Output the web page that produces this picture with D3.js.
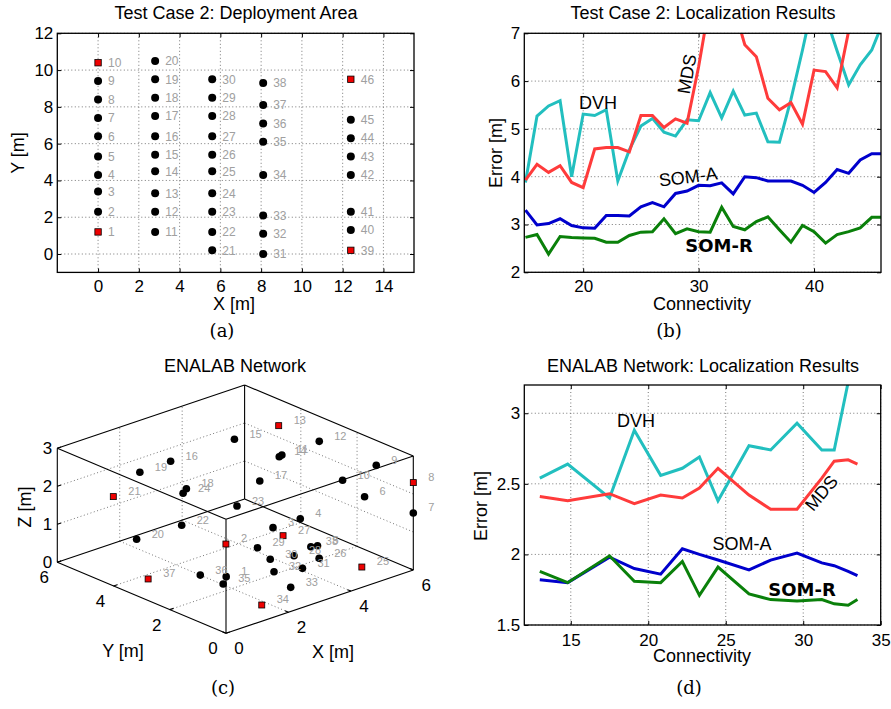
<!DOCTYPE html>
<meta charset="utf-8">
<style>
body { margin: 0; background: #fff; }
svg { font-family: "Liberation Sans", Arial, sans-serif; }
.grid line { stroke: #777; stroke-dasharray: 1,2.5; stroke-width: 1px; }
.line { fill: none; stroke-width: 3px; stroke-linejoin: miter; }
.nlab { fill: #a0a0a0; }
.sub { font-family: "DejaVu Serif", "Liberation Serif", serif; font-size: 18px; }
</style>
<body>
<script src="https://d3js.org/d3.v7.min.js"></script>
<script>

// ---- (a) Test Case 2 deployment
var tcId = d3.range(1, 47);
var tcX = [0,0,0,0,0,0,0,0,0,0, 2.8,2.8,2.8,2.8,2.8,2.8,2.8,2.8,2.8,2.8,
           5.6,5.6,5.6,5.6,5.6,5.6,5.6,5.6,5.6,5.6, 8.1,8.1,8.1,8.1,8.1,8.1,8.1,8.1,
           12.4,12.4,12.4,12.4,12.4,12.4,12.4,12.4];
var tcY = [1.2,2.3,3.4,4.3,5.3,6.4,7.4,8.4,9.4,10.4,
           1.2,2.3,3.3,4.5,5.4,6.4,7.5,8.5,9.5,10.5,
           0.2,1.2,2.3,3.3,4.5,5.4,6.4,7.5,8.5,9.5,
           0.0,1.1,2.1,4.3,6.1,7.1,8.1,9.3,
           0.2,1.3,2.3,4.3,5.3,6.3,7.3,9.5];
var tcAnchors = [1, 10, 39, 46];

// ---- (b) Test Case 2 results
var connB = d3.range(15, 47);
var dvhB  = [3.88,5.27,5.48,5.59,4.0,5.31,5.28,5.4,3.91,4.56,5.06,5.22,4.93,4.85,5.19,5.17,
             5.76,5.23,5.79,5.29,5.33,4.73,4.72,5.62,6.65,7.75,7.36,6.63,5.92,6.34,6.65,7.25];
var mdsB  = [3.93,4.26,4.09,4.23,3.88,3.77,4.58,4.61,4.61,4.52,5.28,5.28,5.03,5.21,5.12,6.3,
             7.7,8.3,7.6,6.76,6.51,5.64,5.40,5.55,5.10,6.23,6.20,5.86,7.05,8.0,8.5,9.0];
var somAB = [3.30,2.99,3.02,3.12,2.98,2.93,2.92,3.19,3.19,3.18,3.37,3.46,3.37,3.65,3.70,3.82,
             3.81,3.87,3.64,4.00,3.98,3.91,3.91,3.91,3.82,3.67,3.88,4.15,4.07,4.35,4.48,4.48];
var somRB = [2.73,2.79,2.38,2.75,2.73,2.72,2.71,2.63,2.63,2.77,2.84,2.85,3.12,2.81,2.91,2.85,
             2.84,3.36,2.96,2.89,3.06,3.16,2.89,2.63,2.98,2.85,2.61,2.79,2.85,2.93,3.15,3.15];

// ---- (c) ENALAB network (3D)
var enId = d3.range(1, 39);
var enX = [0.79,0.88,3.37,4.55,4.04,5.34,6.00,6.00,5.75,4.68,4.51,5.59,5.21,4.39,4.17,2.27,3.82,2.19,1.42,1.10,
           0.56,1.85,3.00,1.94,4.73,4.02,3.53,3.52,2.89,3.11,3.62,2.97,3.09,1.83,1.71,1.68,0.91,3.88];
var enY = [0.87,0.98,2.07,2.41,1.23,1.00,0.00,0.00,1.04,1.05,3.02,2.89,3.91,2.98,4.33,4.49,3.04,3.84,4.64,4.40,
           4.63,3.63,2.94,3.68,0.42,1.15,1.89,1.49,2.09,1.88,1.30,1.59,1.13,0.76,2.00,2.78,3.78,1.29];
var enZ = [1.0,1.8,1.2,1.0,0.8,1.8,1.5,2.3,2.5,2.4,2.5,2.6,2.8,2.5,2.6,2.5,2.0,2.0,2.4,0.8,
           2.0,1.2,1.6,2.0,0.3,0.5,1.0,0.6,0.8,0.5,0.3,0.3,0.0,0.0,0.2,0.2,0.0,0.8];
var enAnchors = [2, 8, 13, 21, 25, 27, 34, 37];

// ---- (d) ENALAB results
var connD = [13.0,14.8,17.5,19.1,20.8,22.2,23.3,24.5,26.5,27.9,29.6,31.2,32.0,32.9,33.5];
var dvhD  = [2.54,2.64,2.40,2.88,2.56,2.61,2.69,2.38,2.77,2.74,2.93,2.74,2.74,3.22,3.6];
var mdsD  = [2.41,2.38,2.43,2.36,2.42,2.40,2.47,2.61,2.42,2.32,2.32,2.54,2.66,2.67,2.64];
var somAD = [1.82,1.80,1.98,1.90,1.86,2.04,2.00,1.96,1.89,1.96,2.01,1.94,1.92,1.88,1.85];
var somRD = [1.88,1.80,1.99,1.81,1.80,1.95,1.71,1.91,1.72,1.68,1.67,1.68,1.65,1.64,1.68];

var colors = {dvh: "#22bfbf", mds: "#ff3b3b", somA: "#0000cc", somR: "#0a800a"};

var svg = d3.select("body").append("svg")
    .attr("width", 891)
    .attr("height", 709);

var fmt = d3.format("~g");

// 2D axes frame with dotted grid and inner ticks on all sides
function frame(id, left, top, w, h, xDom, yDom, xt, yt, xPad) {
  var g = svg.append("g").attr("transform", "translate(" + left + "," + top + ")");
  var x = d3.scaleLinear().domain(xDom).range([0, w]);
  var y = d3.scaleLinear().domain(yDom).range([h, 0]);

  var grid = g.append("g").attr("class", "grid");
  grid.selectAll(".gx").data(xt).enter().append("line")
      .attr("x1", x).attr("x2", x).attr("y1", 0).attr("y2", h);
  grid.selectAll(".gy").data(yt).enter().append("line")
      .attr("y1", y).attr("y2", y).attr("x1", 0).attr("x2", w);

  var axes = [
    g.append("g").attr("transform", "translate(0," + h + ")")
      .call(d3.axisBottom(x).tickValues(xt).tickFormat(fmt).tickSize(-4).tickPadding(xPad)),
    g.append("g").call(d3.axisTop(x).tickValues(xt).tickSize(-4).tickFormat("")),
    g.append("g").call(d3.axisLeft(y).tickValues(yt).tickFormat(fmt).tickSize(-4).tickPadding(4)),
    g.append("g").attr("transform", "translate(" + w + ",0)")
      .call(d3.axisRight(y).tickValues(yt).tickSize(-4).tickFormat(""))
  ];
  axes.forEach(function(a) {
    a.attr("font-size", 17).attr("font-family", "Liberation Sans, Arial, sans-serif");
    a.select(".domain").remove();
    a.selectAll("text").attr("fill", "#000");
  });

  g.append("clipPath").attr("id", id).append("rect").attr("width", w).attr("height", h);
  var plot = g.append("g").attr("clip-path", "url(#" + id + ")");

  g.append("rect").attr("width", w).attr("height", h)
      .attr("fill", "none").attr("stroke", "#000").attr("stroke-width", 1.3);
  return {g: g, x: x, y: y, plot: plot};
}

function text(g, s, x, y, opts) {
  opts = opts || {};
  var t = g.append("text").attr("x", x).attr("y", y).text(s)
      .attr("text-anchor", opts.anchor || "middle")
      .attr("font-size", opts.size || 18);
  if (opts.rotate) t.attr("transform", "rotate(" + opts.rotate + "," + x + "," + y + ")");
  if (opts.bold) t.attr("font-weight", "bold").attr("font-family", "DejaVu Sans, sans-serif");
  if (opts.cls) t.attr("class", opts.cls);
  return t;
}

// ================= (a)
var A = frame("clipA", 57.3, 33.3, 356.7, 239.1, [-2, 15.5], [-1, 12],
              d3.range(0, 15, 2), d3.range(0, 13, 2), 8);
var nodesA = tcId.map(function(id, i) { return {id: id, x: tcX[i], y: tcY[i]}; });
A.g.selectAll(".na").data(nodesA.filter(function(d) { return tcAnchors.indexOf(d.id) < 0; }))
  .enter().append("circle")
    .attr("cx", function(d) { return A.x(d.x); })
    .attr("cy", function(d) { return A.y(d.y); })
    .attr("r", 4).attr("fill", "#000");
A.g.selectAll(".sa").data(nodesA.filter(function(d) { return tcAnchors.indexOf(d.id) >= 0; }))
  .enter().append("rect")
    .attr("x", function(d) { return A.x(d.x) - 3.2; })
    .attr("y", function(d) { return A.y(d.y) - 3.2; })
    .attr("width", 6.4).attr("height", 6.4)
    .attr("fill", "#ee0000").attr("stroke", "#000").attr("stroke-width", 0.8);
A.g.selectAll(".la").data(nodesA).enter().append("text")
    .attr("class", "nlab")
    .attr("x", function(d) { return A.x(d.x) + 10; })
    .attr("y", function(d) { return A.y(d.y); })
    .attr("dy", "0.36em").attr("font-size", 12)
    .text(function(d) { return d.id; });
text(svg, "Test Case 2: Deployment Area", 236, 19);
text(svg, "X [m]", 234, 310);
text(svg, "Y [m]", 24, 153, {rotate: -90});
text(svg, "(a)", 222, 337, {cls: "sub"});

// ================= (b)
var B = frame("clipB", 524.3, 33.3, 356.7, 239, [14.9, 45.8], [2, 7],
              [20, 30, 40], d3.range(2, 8), 8);
var lineB = d3.line()
    .x(function(d, i) { return B.x(connB[i]); })
    .y(function(d) { return B.y(d); });
[[dvhB, colors.dvh], [mdsB, colors.mds], [somAB, colors.somA], [somRB, colors.somR]].forEach(function(s) {
  B.plot.append("path").datum(s[0]).attr("class", "line").attr("stroke", s[1]).attr("d", lineB);
});
text(svg, "Test Case 2: Localization Results", 703, 19);
text(svg, "Connectivity", 702, 310);
text(svg, "Error [m]", 502, 153, {rotate: -90});
text(svg, "DVH", 598, 109);
text(svg, "MDS", 693, 75, {rotate: -80});
text(svg, "SOM-A", 689, 183, {rotate: -7});
text(svg, "SOM-R", 719, 252, {bold: true});
text(svg, "(b)", 669, 337, {cls: "sub"});

// ================= (d)
var D = frame("clipD", 524.3, 385, 356.4, 240, [12, 35], [1.5, 3.2],
              [15, 20, 25, 30, 35], [1.5, 2, 2.5, 3], 9);
var lineD = d3.line()
    .x(function(d, i) { return D.x(connD[i]); })
    .y(function(d) { return D.y(d); });
[[dvhD, colors.dvh], [mdsD, colors.mds], [somAD, colors.somA], [somRD, colors.somR]].forEach(function(s) {
  D.plot.append("path").datum(s[0]).attr("class", "line").attr("stroke", s[1]).attr("d", lineD);
});
text(svg, "ENALAB Network: Localization Results", 703, 372);
text(svg, "Connectivity", 702, 662);
text(svg, "Error [m]", 487, 506, {rotate: -90});
text(svg, "DVH", 636, 427);
text(svg, "MDS", 826, 497, {rotate: -50});
text(svg, "SOM-A", 742, 550);
text(svg, "SOM-R", 802, 596, {bold: true});
text(svg, "(d)", 689, 694, {cls: "sub"});

// ================= (c) 3D scatter, fixed oblique view
var hx = d3.scaleLinear().domain([0, 6]).range([0, 187.3]),
    vx = d3.scaleLinear().domain([0, 6]).range([0, -63.3]),
    hy = d3.scaleLinear().domain([0, 6]).range([0, -168.7]),
    vy = d3.scaleLinear().domain([0, 6]).range([0, -71]),
    vz = d3.scaleLinear().domain([0, 3]).range([0, -114]);
function proj(x, y, z) {
  return [226 + hx(x) + hy(y), 633.3 + vx(x) + vy(y) + vz(z)];
}
var C = svg.append("g");
function seg(g, a, b) {
  var p = proj.apply(null, a), q = proj.apply(null, b);
  return g.append("line").attr("x1", p[0]).attr("y1", p[1]).attr("x2", q[0]).attr("y2", q[1]);
}
// grid on floor and the two back walls
var cg = C.append("g").attr("class", "grid");
[2, 4].forEach(function(v) {
  seg(cg, [v, 0, 0], [v, 6, 0]);
  seg(cg, [0, v, 0], [6, v, 0]);
  seg(cg, [v, 6, 0], [v, 6, 3]);
  seg(cg, [6, v, 0], [6, v, 3]);
});
[1, 2].forEach(function(v) {
  seg(cg, [0, 6, v], [6, 6, v]);
  seg(cg, [6, 0, v], [6, 6, v]);
});
// box
var cb = C.append("g").attr("stroke", "#000").attr("stroke-width", 1.1);
var xs = [0, 6], ys = [0, 6], zs = [0, 3];
xs.forEach(function(a) { ys.forEach(function(b) { seg(cb, [a, b, 0], [a, b, 3]); }); });
xs.forEach(function(a) { zs.forEach(function(c) { seg(cb, [a, 0, c], [a, 6, c]); }); });
ys.forEach(function(b) { zs.forEach(function(c) { seg(cb, [0, b, c], [6, b, c]); }); });
// small ticks
[0, 2, 4, 6].forEach(function(v) {
  seg(cb, [v, 0, 0], [v, 0.12, 0]);
  seg(cb, [0, v, 0], [0.12, v, 0]);
});
[0, 1, 2, 3].forEach(function(v) { seg(cb, [0, 6, v], [0.12, 6, v]); });

var ct = C.append("g").attr("font-size", 17);
[0, 2, 4, 6].forEach(function(v) {
  var p = proj(v, 0, 0);
  ct.append("text").attr("x", p[0] + 13).attr("y", p[1] + 21).attr("text-anchor", "middle").text(v);
  var q = proj(0, v, 0);
  ct.append("text").attr("x", q[0] - 13).attr("y", q[1] + 21).attr("text-anchor", "middle").text(v);
});
[0, 1, 2, 3].forEach(function(v) {
  var p = proj(0, 6, v);
  ct.append("text").attr("x", p[0] - 5).attr("y", p[1] + 6).attr("text-anchor", "end").text(v);
});

var nodesC = enId.map(function(id, i) {
  var p = proj(enX[i], enY[i], enZ[i]);
  return {id: id, sx: p[0], sy: p[1], anchor: enAnchors.indexOf(id) >= 0};
});
C.selectAll(".nc").data(nodesC.filter(function(d) { return !d.anchor; })).enter().append("circle")
    .attr("cx", function(d) { return d.sx; }).attr("cy", function(d) { return d.sy; })
    .attr("r", 3.8).attr("fill", "#000");
C.selectAll(".sc").data(nodesC.filter(function(d) { return d.anchor; })).enter().append("rect")
    .attr("x", function(d) { return d.sx - 3; }).attr("y", function(d) { return d.sy - 3; })
    .attr("width", 6).attr("height", 6)
    .attr("fill", "#ee0000").attr("stroke", "#000").attr("stroke-width", 0.8);
C.selectAll(".lc").data(nodesC).enter().append("text")
    .attr("class", "nlab")
    .attr("x", function(d) { return d.sx + 15; })
    .attr("y", function(d) { return d.sy - 5.5; })
    .attr("dy", "0.36em").attr("font-size", 11)
    .text(function(d) { return d.id; });

text(svg, "ENALAB Network", 235, 372);
text(svg, "Z [m]", 31, 507, {rotate: -90});
text(svg, "Y [m]", 123, 657);
text(svg, "X [m]", 333, 658);
text(svg, "(c)", 223, 694, {cls: "sub"});

</script>
</body>
